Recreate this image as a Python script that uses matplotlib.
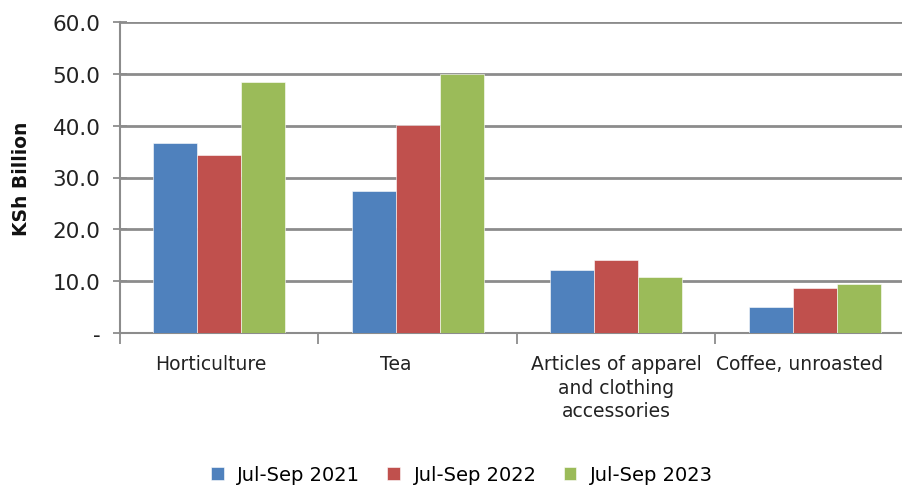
import matplotlib
matplotlib.use("Agg")
import matplotlib.pyplot as plt
import matplotlib.transforms as mtransforms
import numpy as np

categories = ["Horticulture", "Tea", "Articles of apparel\nand clothing\naccessories", "Coffee, unroasted"]
series_names = ["Jul-Sep 2021", "Jul-Sep 2022", "Jul-Sep 2023"]
v2021 = [36.7, 27.4, 12.1, 5.1]
v2022 = [34.4, 40.1, 14.1, 8.7]
v2023 = [48.5, 49.9, 10.8, 9.5]
yticks = [0, 10, 20, 30, 40, 50, 60]
ytick_labels = ["-", "10.0", "20.0", "30.0", "40.0", "50.0", "60.0"]

colors = ["#4F81BD", "#C0504D", "#9BBB59"]
plt.rcParams['font.family'] = ['DejaVu Sans']

fig = plt.figure(figsize=(9.02, 4.89), dpi=100)
ax = fig.add_axes([120/902, 1-334/489, 794/902, 311/489])

x = np.arange(len(categories))
w = 0.222
for i, (vals, name) in enumerate(zip([v2021, v2022, v2023], series_names)):
    ax.bar(x + (i-1)*w, vals, width=w, color=colors[i], label=name, zorder=3,
           edgecolor="white", linewidth=0.4)

ax.set_xlim(-0.5, len(categories)-0.5)
ax.set_ylim(0, 60)
ax.set_yticks(yticks)
ax.set_yticklabels(ytick_labels, fontsize=15.5, color="#222222")
ax.yaxis.grid(True, color="#8c8c8c", linewidth=2, zorder=0)
ax.set_axisbelow(True)

ax.set_xticks(x)
ax.set_xticklabels(categories, fontsize=13.5, color="#222222", linespacing=1.32)
ax.tick_params(axis='x', length=0, pad=15)
ax.set_xticks(np.arange(-0.5, len(categories)), minor=True)
ax.tick_params(axis='x', which='minor', length=8, width=1.3, color="#8c8c8c", direction='out')
ax.tick_params(axis='y', length=10, width=1.3, color="#8c8c8c", direction='inout', pad=9)

# Excel-like label placement shifts (pixels)
shifts = [-8, -22, 0, -15]
for lbl, dx in zip(ax.get_xticklabels(), shifts):
    lbl.set_transform(lbl.get_transform() + mtransforms.ScaledTranslation(dx/100, 0, fig.dpi_scale_trans))

for s in ["top", "right"]:
    ax.spines[s].set_visible(False)
for s in ["left", "bottom"]:
    ax.spines[s].set_color("#8c8c8c")
    ax.spines[s].set_linewidth(1.5)

ax.set_ylabel("KSh Billion", fontsize=13.5, fontweight="bold", color="#111111")
ax.yaxis.set_label_coords(-(120-31)/794, 0.5)

handles, labels = ax.get_legend_handles_labels()
fig.legend(handles, labels, loc="center", bbox_to_anchor=(462/902, 1-476/489), ncol=3,
           frameon=False, fontsize=14, handlelength=0.65, handleheight=0.65,
           handletextpad=0.7, columnspacing=1.4)

fig.savefig("out.png", dpi=100)
